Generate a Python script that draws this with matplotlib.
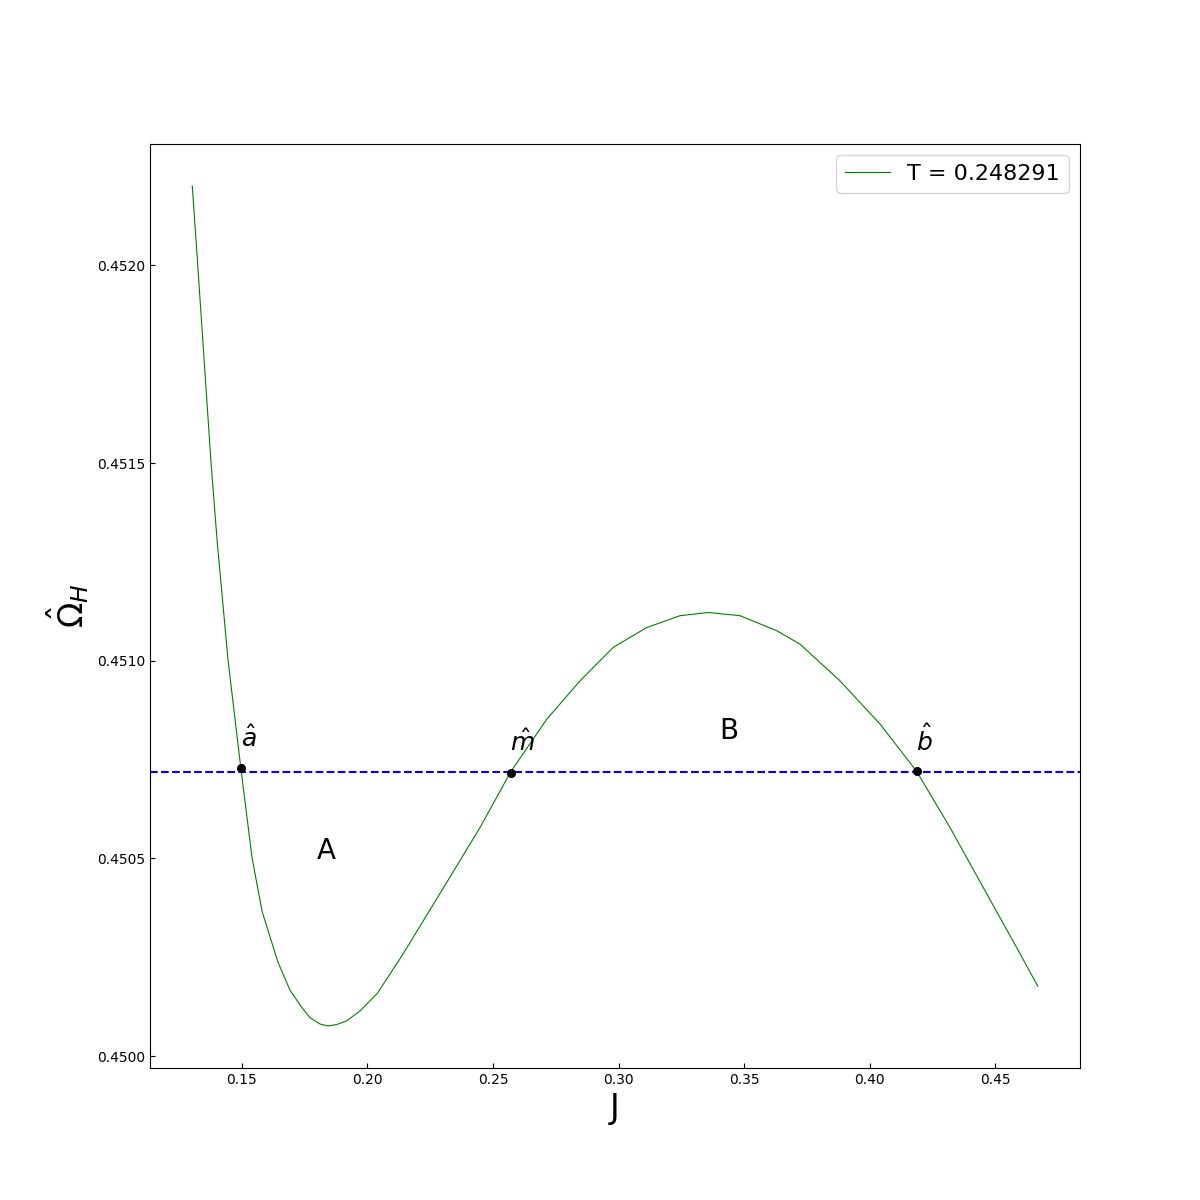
import matplotlib
matplotlib.use("Agg")
import matplotlib.pyplot as plt

# curve values
J = [0.13020, 0.13235, 0.13767, 0.14016, 0.14446, 0.14956, 0.15398, 0.15801,
     0.16430, 0.16912, 0.17371, 0.17709, 0.18108, 0.18438, 0.18785, 0.19171,
     0.19701, 0.20398, 0.21394, 0.23155, 0.24482, 0.25697, 0.27139,
     0.28466, 0.29793, 0.31124, 0.32450, 0.33578, 0.34841, 0.36303, 0.37231,
     0.38825, 0.40418, 0.41880, 0.43207, 0.44534, 0.45865, 0.46701]
omega = [0.452201, 0.452003, 0.451501, 0.451299, 0.451001, 0.450728, 0.450503,
         0.450366, 0.450238, 0.450167, 0.450124, 0.450097, 0.450081, 0.450076,
         0.450080, 0.450089, 0.450114, 0.450159, 0.450256, 0.450439,
         0.450578, 0.450718, 0.450852, 0.450949, 0.451034, 0.451084, 0.451114,
         0.451122, 0.451114, 0.451076, 0.451042, 0.450949, 0.450840, 0.450720,
         0.450578, 0.450426, 0.450274, 0.450177]

T = 0.248291
omega_line = 0.450719

# intersection points a, m, b
pts_J = [0.14948, 0.25705, 0.41880]
pts_omega = [0.450728, 0.450717, 0.450722]
pts_labels = [r"$\hat{a}$", r"$\hat{m}$", r"$\hat{b}$"]
label_J = [0.1529, 0.2615, 0.4218]
label_omega = [0.450803, 0.450792, 0.450798]

# region labels
region_J = [0.18353, 0.34384]
region_omega = [0.450519, 0.450822]
region_labels = ["A", "B"]

fig, ax = plt.subplots(figsize=(12, 12), dpi=100)

ax.plot(J, omega, color="green", lw=0.8, label=f"T = {T}")
ax.axhline(omega_line, color="blue", ls="--", lw=1.5)
ax.plot(pts_J, pts_omega, "o", color="black", ms=5.5)

for x, y, s in zip(label_J, label_omega, pts_labels):
    ax.text(x, y, s, fontsize=18, ha="center", va="center")

for x, y, s in zip(region_J, region_omega, region_labels):
    ax.text(x, y, s, fontsize=20, ha="center", va="center")

ax.set_xlabel("J", fontsize=24)
ax.set_ylabel(r"$\hat{\Omega}_H$", fontsize=24)
ax.tick_params(direction="in")
ax.ticklabel_format(useOffset=False)
ax.legend(loc="upper right", fontsize=16)

fig.savefig("out.png")
